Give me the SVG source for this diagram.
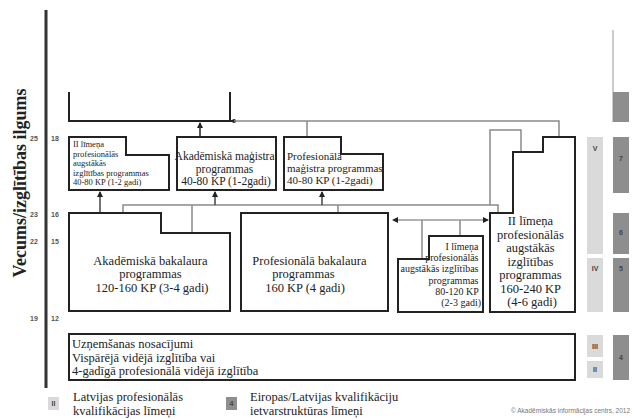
<svg xmlns="http://www.w3.org/2000/svg" width="632" height="419" viewBox="0 0 632 419">
<defs>
<style>
.box{fill:#fff;stroke:#222;stroke-width:2}
.thick{fill:none;stroke:#222;stroke-width:2}
.thin{fill:none;stroke:#8a8a8a;stroke-width:1.5}
.t{font-family:"Liberation Serif","Times New Roman",serif;fill:#222}
.age{font-family:"Liberation Sans",Arial,sans-serif;font-weight:bold;font-size:7px;fill:#555}
.lv{font-family:"Liberation Sans",Arial,sans-serif;font-weight:bold;font-size:7px;fill:#444;text-anchor:middle}
.lg{fill:#dadada}
.dg{fill:#8e8e8e}
</style>
<marker id="ah" viewBox="0 0 6 6" refX="5" refY="3" markerWidth="6" markerHeight="6" orient="auto" markerUnits="userSpaceOnUse">
<path d="M0,0 L6,3 L0,6 z" fill="#222"/>
</marker>
</defs>
<rect width="632" height="419" fill="#fff"/>

<g id="axis">
<line x1="46" y1="10" x2="46" y2="388" stroke="#333" stroke-width="3"/>
<text class="t" font-weight="bold" font-size="18" text-anchor="middle" transform="translate(26,183) rotate(-90)">Vecums/izglītības ilgums</text>
<text class="age" x="30" y="141">25</text><text class="age" x="51" y="141">18</text>
<text class="age" x="30" y="217">23</text><text class="age" x="51" y="217">16</text>
<text class="age" x="30" y="244">22</text><text class="age" x="51" y="244">15</text>
<text class="age" x="30" y="321">19</text><text class="age" x="51" y="321">12</text>
</g>

<g id="connectors">
<path class="thick" d="M69,92 V121 H234 M230,92 V121"/>
<circle cx="234" cy="121" r="2" fill="#222"/>
<path class="thin" d="M234,121 H559 V137"/>
<path class="thin" d="M307,121 V137"/>
<line x1="200" y1="137" x2="200" y2="123" stroke="#222" stroke-width="1.5" marker-end="url(#ah)"/>
<path class="thin" d="M123,213 V205 H498 V213 M490,205 V130 H521 V152"/>
<path class="thin" d="M192,205 V233 M338,205 V213"/>
<line x1="100" y1="213" x2="100" y2="192" stroke="#444" stroke-width="1.5" marker-end="url(#ah)"/>
<line x1="215" y1="205" x2="215" y2="192" stroke="#444" stroke-width="1.5" marker-end="url(#ah)"/>
<line x1="322" y1="205" x2="322" y2="192" stroke="#444" stroke-width="1.5" marker-end="url(#ah)"/>
<line x1="394" y1="220" x2="488" y2="220" stroke="#666" stroke-width="1.2" marker-end="url(#ah)"/>
<path d="M392,220 L398,217 L398,223 z" fill="#222"/>
<path class="thin" d="M422,220 V259 M460,220 V236"/>
</g>

<g id="n-l2-short">
<path class="box" d="M69,137 H126 V155 H169 V190 H69 Z"/>
<text class="t" font-size="8.5">
<tspan x="73" y="147">II līmeņa</tspan>
<tspan x="73" y="156.5">profesionālās</tspan>
<tspan x="73" y="166">augstākās</tspan>
<tspan x="73" y="175.5">izglītības programmas</tspan>
<tspan x="73" y="185">40-80 KP (1-2 gadi)</tspan>
</text>
</g>

<g id="n-ak-mag">
<rect class="box" x="177" y="137" width="99" height="53"/>
<text class="t" font-size="11.5" text-anchor="middle">
<tspan x="226" y="160">Akadēmiskā maģistra</tspan>
<tspan x="226" y="172.5">programmas</tspan>
<tspan x="226" y="185">40-80 KP (1-2gadi)</tspan>
</text>
</g>

<g id="n-pr-mag">
<path class="box" d="M284,137 H341 V154 H383 V190 H284 Z"/>
<text class="t" font-size="11">
<tspan x="287" y="160">Profesionālā</tspan>
<tspan x="287" y="172">maģistra programmas</tspan>
<tspan x="287" y="184">40-80 KP (1-2gadi)</tspan>
</text>
</g>

<g id="n-l2-long">
<path class="box" d="M490,213 H513 V152 H543 V137 H575 V312 H490 Z"/>
<text class="t" font-size="12.5" text-anchor="middle">
<tspan x="532" y="225">II līmeņa</tspan>
<tspan x="532" y="238.5">profesionālās</tspan>
<tspan x="532" y="252">augstākās</tspan>
<tspan x="532" y="265.5">izglītības</tspan>
<tspan x="532" y="279">programmas</tspan>
<tspan x="532" y="292.5">160-240 KP</tspan>
<tspan x="532" y="306">(4-6 gadi)</tspan>
</text>
</g>

<g id="n-ak-bak">
<path class="box" d="M69,213 H161 V233 H230 V311 H69 Z"/>
<text class="t" font-size="12.5" text-anchor="middle">
<tspan x="152" y="264.5">Akadēmiskā bakalaura</tspan>
<tspan x="152" y="278">programmas</tspan>
<tspan x="152" y="291.5">120-160 KP (3-4 gadi)</tspan>
</text>
</g>

<g id="n-pr-bak">
<rect class="box" x="241" y="213" width="147" height="98"/>
<text class="t" font-size="12.5" text-anchor="middle">
<tspan x="311" y="264.5">Profesionālā  bakalaura</tspan>
<tspan x="305" y="278">programmas</tspan>
<tspan x="305" y="291.5">160 KP (4 gadi)</tspan>
</text>
</g>

<g id="n-l1">
<path class="box" d="M398,259 H429 V236 H483 V312 H398 Z"/>
<text class="t" font-size="10" text-anchor="end">
<tspan x="481" y="250">I līmeņa</tspan>
<tspan x="481" y="261.2">profesionālās</tspan>
<tspan x="481" y="272.4">augstākās izglītības</tspan>
<tspan x="481" y="283.6">programmas</tspan>
<tspan x="481" y="294.8">80-120 KP</tspan>
<tspan x="481" y="306">(2-3 gadi)</tspan>
</text>
</g>

<g id="n-entry">
<rect class="box" x="69" y="334" width="506" height="46"/>
<text class="t" font-size="12.5">
<tspan x="72" y="348">Uzņemšanas nosacījumi</tspan>
<tspan x="72" y="361.5">Vispārējā vidējā izglītība vai</tspan>
<tspan x="72" y="375">4-gadīgā profesionālā vidējā izglītība</tspan>
</text>
</g>

<g id="levels">
<rect class="lg" x="587" y="137" width="16" height="117"/>
<text class="lv" x="595" y="151">V</text>
<rect class="lg" x="587" y="258" width="16" height="54"/>
<text class="lv" x="595" y="271">IV</text>
<rect class="lg" x="587" y="335" width="16" height="22"/>
<text class="lv" x="595" y="349">III</text>
<rect class="lg" x="587" y="361" width="16" height="17"/>
<text class="lv" x="595" y="372">II</text>
<line x1="613" y1="30" x2="613" y2="122" stroke="#999" stroke-width="1"/>
<rect class="dg" x="613" y="92" width="16" height="30"/>
<rect class="dg" x="613" y="137" width="16" height="56"/>
<text class="lv" x="621" y="161">7</text>
<rect class="dg" x="613" y="213" width="16" height="41"/>
<text class="lv" x="621" y="235">6</text>
<rect class="dg" x="613" y="258" width="16" height="54"/>
<text class="lv" x="621" y="271">5</text>
<rect class="dg" x="613" y="335" width="16" height="45"/>
<text class="lv" x="621" y="360">4</text>
</g>

<g id="legend">
<rect class="lg" x="48" y="397" width="11" height="13"/>
<text class="lv" x="53.5" y="406">II</text>
<text class="t" font-size="12.5"><tspan x="73" y="401">Latvijas profesionālās</tspan><tspan x="73" y="414.5">kvalifikācijas līmeņi</tspan></text>
<rect class="dg" x="226" y="397" width="11" height="13"/>
<text class="lv" x="231.5" y="406">4</text>
<text class="t" font-size="12.5"><tspan x="250" y="401">Eiropas/Latvijas kvalifikāciju</tspan><tspan x="250" y="414.5">ietvarstruktūras līmeņi</tspan></text>
<text x="630" y="413" text-anchor="end" font-family="'Liberation Sans',Arial,sans-serif" font-size="6.5" fill="#777">© Akadēmiskās informācijas centrs, 2012</text>
</g>
</svg>
